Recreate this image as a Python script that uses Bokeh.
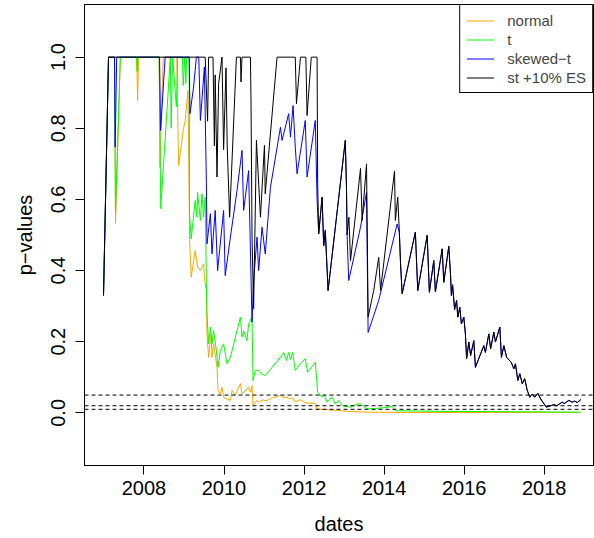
from bokeh.plotting import figure
from bokeh.models import Range1d, Span, Legend, LegendItem, FixedTicker, NumeralTickFormatter
from bokeh.embed import file_html
from bokeh.resources import INLINE

# ---- data (decimal year, p-value) ----
normal_pts = [
    (2006.99, 0.33), (2007.115, 1.0), (2007.265, 1.0), (2007.29, 0.533), (2007.41, 1.0),
    (2007.82, 1.0), (2007.84, 0.878), (2007.87, 1.0), (2008.38, 1.0), (2008.40, 0.69),
    (2008.48, 1.0), (2008.82, 1.0), (2008.865, 0.695), (2008.99, 0.80), (2009.03, 0.822),
    (2009.10, 0.906), (2009.14, 0.489), (2009.18, 0.381), (2009.28, 0.456), (2009.34, 0.41),
    (2009.41, 0.40), (2009.49, 0.419), (2009.515, 0.372), (2009.56, 0.344), (2009.575, 0.222),
    (2009.615, 0.156), (2009.675, 0.222), (2009.70, 0.156), (2009.74, 0.194), (2009.825, 0.128),
    (2009.85, 0.063), (2009.91, 0.053), (2009.95, 0.072), (2009.99, 0.044), (2010.075, 0.039),
    (2010.16, 0.035), (2010.20, 0.063), (2010.28, 0.049), (2010.41, 0.082), (2010.45, 0.053),
    (2010.615, 0.072), (2010.66, 0.058), (2010.70, 0.077), (2010.725, 0.021), (2010.825, 0.035),
    (2010.865, 0.030), (2010.99, 0.037), (2011.03, 0.033), (2011.21, 0.042), (2011.41, 0.049),
    (2011.48, 0.043), (2011.575, 0.044), (2011.64, 0.039), (2011.71, 0.042), (2011.78, 0.031),
    (2011.91, 0.037), (2012.03, 0.028), (2012.28, 0.027), (2012.325, 0.011), (2012.66, 0.008),
    (2013.115, 0.004), (2013.575, 0.002), (2014.41, 0.001), (2018.91, 0.001),
]

t_pts = [
    (2006.99, 0.33), (2007.115, 1.0), (2007.265, 1.0), (2007.29, 0.564), (2007.41, 1.0),
    (2007.815, 1.0), (2007.83, 0.96), (2007.845, 1.0), (2008.38, 1.0), (2008.42, 0.574),
    (2008.66, 1.0), (2008.68, 0.80), (2008.715, 1.0), (2008.81, 0.86), (2008.845, 1.0),
    (2008.96, 1.0), (2008.98, 0.92), (2009.02, 1.0), (2009.045, 0.926), (2009.07, 1.0),
    (2009.13, 1.0), (2009.14, 0.555), (2009.18, 0.489), (2009.28, 0.597), (2009.325, 0.55),
    (2009.34, 0.62), (2009.41, 0.541), (2009.45, 0.616), (2009.49, 0.55), (2009.53, 0.606),
    (2009.56, 0.363), (2009.575, 0.278), (2009.615, 0.194), (2009.66, 0.241), (2009.70, 0.194),
    (2009.74, 0.231), (2009.81, 0.175), (2009.85, 0.128), (2009.91, 0.175), (2009.99, 0.194),
    (2010.075, 0.138), (2010.16, 0.156), (2010.325, 0.231), (2010.41, 0.269), (2010.45, 0.213),
    (2010.49, 0.231), (2010.575, 0.203), (2010.615, 0.25), (2010.70, 0.269), (2010.725, 0.091),
    (2010.78, 0.119), (2010.865, 0.119), (2010.93, 0.11), (2011.03, 0.105), (2011.41, 0.156),
    (2011.49, 0.17), (2011.56, 0.147), (2011.615, 0.17), (2011.66, 0.15), (2011.715, 0.17),
    (2011.78, 0.119), (2011.91, 0.138), (2012.03, 0.152), (2012.09, 0.114), (2012.28, 0.142),
    (2012.34, 0.058), (2012.45, 0.044), (2012.51, 0.05), (2012.575, 0.03), (2012.70, 0.044),
    (2012.78, 0.025), (2012.865, 0.035), (2012.96, 0.02), (2013.16, 0.016), (2013.33, 0.025),
    (2013.41, 0.025), (2013.575, 0.011), (2013.78, 0.012), (2014.03, 0.015), (2014.20, 0.018),
    (2014.28, 0.006), (2015.66, 0.004), (2018.91, 0.002),
]

skewed_head_pts = [
    (2006.99, 0.33), (2007.115, 1.0), (2007.265, 1.0), (2007.28, 0.747), (2007.32, 1.0),
    (2008.39, 1.0), (2008.415, 0.794), (2008.53, 1.0), (2009.13, 1.0), (2009.15, 0.841),
    (2009.24, 0.916), (2009.31, 1.0), (2009.37, 1.0), (2009.41, 0.822), (2009.51, 0.972),
    (2009.56, 0.644), (2009.575, 0.475), (2009.66, 0.56), (2009.70, 0.447), (2009.78, 0.569),
    (2009.84, 0.40), (2009.99, 0.569), (2010.03, 0.386), (2010.16, 0.494), (2010.325, 0.625),
    (2010.45, 0.738), (2010.49, 0.569), (2010.615, 0.681), (2010.70, 0.255), (2010.74, 0.372),
    (2010.825, 0.494), (2010.865, 0.40), (2010.95, 0.522), (2011.03, 0.447), (2011.16, 0.634),
    (2011.41, 0.803), (2011.45, 0.766), (2011.615, 0.841), (2011.66, 0.775), (2011.725, 0.864),
    (2011.78, 0.747), (2011.825, 0.672), (2012.03, 0.822), (2012.075, 0.663), (2012.28, 0.822),
    (2012.325, 0.60), (2012.365, 0.503), (2012.45, 0.606), (2012.49, 0.47), (2012.53, 0.513),
    (2012.60, 0.344), (2013.03, 0.766), (2013.06, 0.63), (2013.075, 0.50), (2013.115, 0.372),
    (2013.41, 0.522), (2013.56, 0.62), (2013.60, 0.226), (2013.865, 0.316), (2014.325, 0.531),
    (2014.38, 0.508), (2014.41, 0.419), (2014.45, 0.335),
]

st_es_head_pts = [
    (2006.99, 0.33), (2007.115, 1.0), (2009.53, 1.0), (2009.59, 0.82), (2009.615, 1.0),
    (2009.725, 1.0), (2009.76, 0.75), (2009.78, 0.95), (2009.825, 0.663), (2009.865, 0.925),
    (2009.95, 1.0), (2009.99, 0.74), (2010.05, 0.97), (2010.08, 0.75), (2010.14, 0.55),
    (2010.31, 1.0), (2010.41, 1.0), (2010.425, 0.93), (2010.45, 1.0), (2010.66, 1.0),
    (2010.675, 0.874), (2010.70, 0.494), (2010.74, 0.293), (2010.81, 0.766), (2010.91, 0.55),
    (2011.01, 0.752), (2011.03, 0.616), (2011.325, 1.0), (2011.78, 1.0), (2011.81, 0.869),
    (2011.91, 1.0), (2012.045, 1.0), (2012.075, 0.836), (2012.18, 1.0), (2012.325, 1.0),
    (2012.34, 0.644), (2012.365, 0.503), (2012.45, 0.606), (2012.49, 0.47), (2012.53, 0.513),
    (2012.60, 0.344), (2013.03, 0.766), (2013.06, 0.63), (2013.075, 0.50), (2013.12, 0.55),
    (2013.16, 0.428), (2013.41, 0.687), (2013.45, 0.541), (2013.56, 0.70), (2013.575, 0.541),
    (2013.60, 0.269), (2013.74, 0.344), (2013.865, 0.437), (2013.91, 0.344), (2014.26, 0.68),
    (2014.28, 0.541), (2014.34, 0.606), (2014.38, 0.508), (2014.41, 0.419), (2014.45, 0.335),
]

# where skewed-t and st +10% ES coincide (2014.5 onwards)
shared_tail_pts = [
    (2014.78, 0.508), (2014.84, 0.344), (2015.075, 0.499), (2015.13, 0.339), (2015.24, 0.428),
    (2015.28, 0.34), (2015.45, 0.461), (2015.49, 0.367), (2015.615, 0.468), (2015.66, 0.386),
    (2015.68, 0.33), (2015.71, 0.36), (2015.76, 0.29), (2015.81, 0.316), (2015.84, 0.269),
    (2015.89, 0.297), (2015.93, 0.25), (2015.99, 0.269), (2016.03, 0.222), (2016.06, 0.152),
    (2016.115, 0.199), (2016.16, 0.161), (2016.24, 0.203), (2016.28, 0.128), (2016.49, 0.189),
    (2016.53, 0.170), (2016.615, 0.222), (2016.66, 0.18), (2016.74, 0.227), (2016.78, 0.199),
    (2016.89, 0.241), (2016.93, 0.156), (2016.99, 0.189), (2017.06, 0.156), (2017.175, 0.142),
    (2017.24, 0.124), (2017.28, 0.138), (2017.34, 0.091), (2017.39, 0.11), (2017.45, 0.082),
    (2017.51, 0.096), (2017.575, 0.063), (2017.64, 0.044), (2017.70, 0.053), (2017.76, 0.044),
    (2017.84, 0.055), (2017.91, 0.039), (2018.05, 0.016), (2018.24, 0.023), (2018.31, 0.02),
    (2018.45, 0.03), (2018.495, 0.026), (2018.615, 0.035), (2018.70, 0.03), (2018.76, 0.033),
    (2018.825, 0.029), (2018.91, 0.037),
]

series_labels = ["normal", "t", "skewed\u2212t", "st +10% ES"]
series_colors = ["#FFA500", "#00FF00", "#0000FF", "#000000"]
threshold_levels = [0.05, 0.02, 0.01]
y_ticks = [0.0, 0.2, 0.4, 0.6, 0.8, 1.0]
x_ticks = [2008, 2010, 2012, 2014, 2016, 2018]

series_pts = [normal_pts, t_pts, skewed_head_pts + shared_tail_pts, st_es_head_pts + shared_tail_pts]

FONT = "Liberation Sans"

p = figure(width=594, height=538,
           x_range=Range1d(2006.515, 2019.23), y_range=Range1d(-0.148, 1.148),
           output_backend="svg", toolbar_location=None,
           min_border_left=84, min_border_right=1, min_border_top=4, min_border_bottom=73,
           x_axis_label="dates", y_axis_label="p\u2212values")

p.background_fill_color = "white"
p.border_fill_color = "white"
p.xgrid.visible = False
p.ygrid.visible = False
p.outline_line_color = "black"
p.outline_line_width = 1
p.outline_line_alpha = 1.0

for ax in (p.xaxis[0], p.yaxis[0]):
    ax.axis_line_color = "black"
    ax.major_tick_line_color = "black"
    ax.major_tick_out = 9
    ax.major_tick_in = 0
    ax.minor_tick_out = 0
    ax.minor_tick_in = 0
    ax.major_label_text_font = FONT
    ax.major_label_text_font_size = "20px"
    ax.major_label_text_color = "black"
    ax.axis_label_text_font = FONT
    ax.axis_label_text_font_size = "20px"
    ax.axis_label_text_font_style = "normal"
    ax.axis_label_text_color = "black"

p.xaxis.ticker = FixedTicker(ticks=x_ticks)
p.xaxis.formatter = NumeralTickFormatter(format="0")
p.xaxis.major_label_standoff = 6
p.xaxis.axis_label_standoff = 15

p.yaxis.ticker = FixedTicker(ticks=y_ticks)
p.yaxis.formatter = NumeralTickFormatter(format="0.0")
p.yaxis.major_label_orientation = "vertical"
p.yaxis.major_label_standoff = 10
p.yaxis.axis_label_standoff = 13

renderers = []
for pts, col in zip(series_pts, series_colors):
    xs = [d for d, v in pts]
    ys = [v for d, v in pts]
    r = p.line(xs, ys, line_color=col, line_width=1)
    renderers.append(r)

for lvl in threshold_levels:
    p.add_layout(Span(location=lvl, dimension="width", line_color="black",
                      line_dash="4 3", line_width=1))

legend = Legend(items=[LegendItem(label=lab, renderers=[r]) for lab, r in zip(series_labels, renderers)],
                location="top_right", margin=0, padding=6, spacing=1,
                glyph_width=28, glyph_height=17, label_height=18, label_standoff=13,
                label_text_font=FONT, label_text_font_size="15px",
                border_line_color="black", border_line_width=1, border_line_alpha=1.0,
                background_fill_color="white", background_fill_alpha=1.0)
p.add_layout(legend)

open("out.html", "w").write(file_html(p, INLINE))
